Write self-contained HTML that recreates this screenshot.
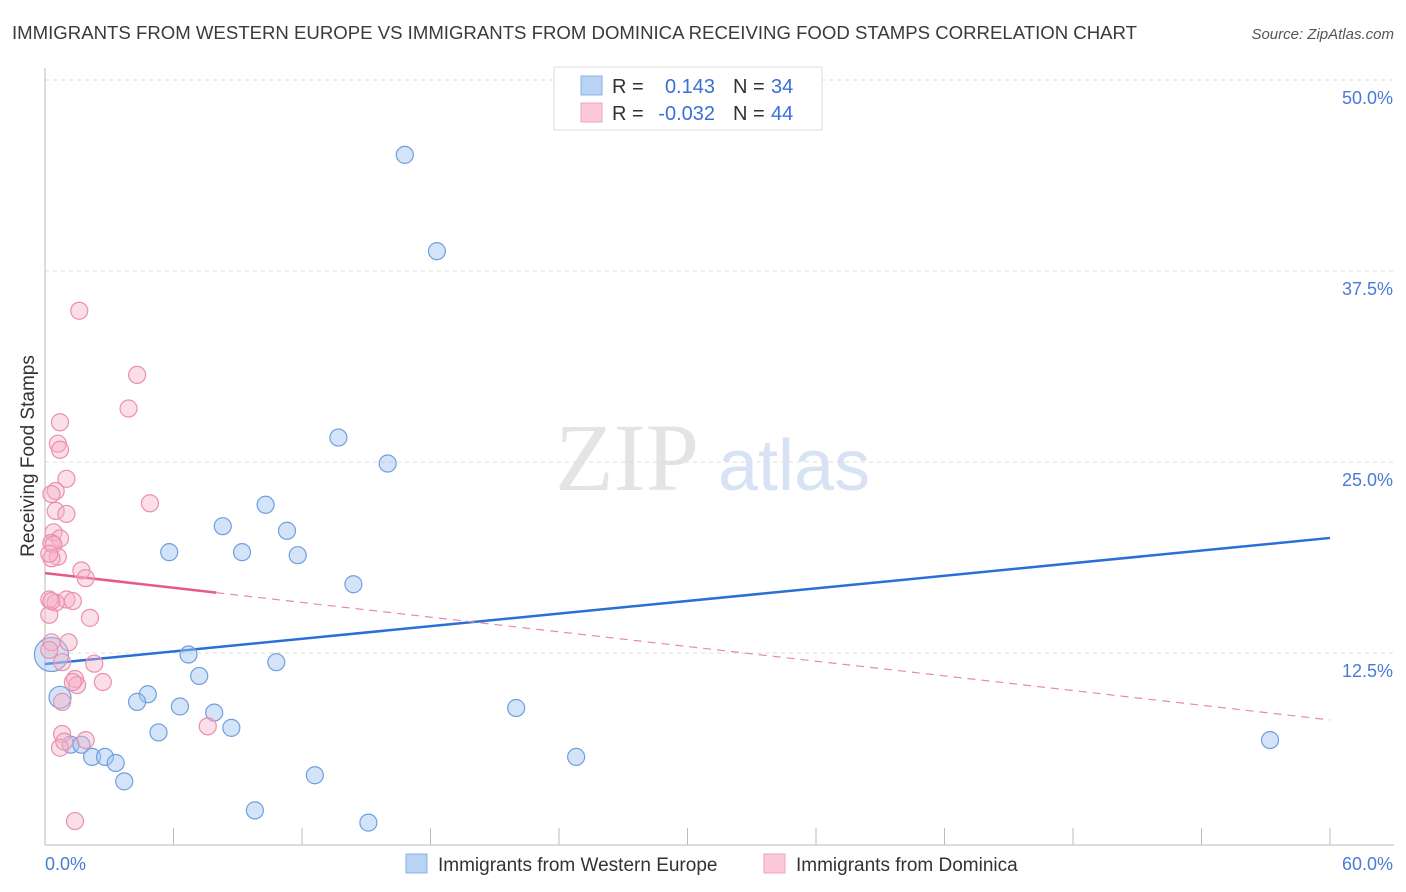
<!DOCTYPE html>
<html><head><meta charset="utf-8">
<style>
body{margin:0;background:#fff;font-family:"Liberation Sans",sans-serif;}
svg{display:block}
</style></head>
<body>
<svg id="chart" width="1406" height="892" xmlns="http://www.w3.org/2000/svg">
<text x="12" y="39" font-size="18" fill="#3a3a3a" textLength="1125" lengthAdjust="spacingAndGlyphs" font-family="Liberation Sans, sans-serif">IMMIGRANTS FROM WESTERN EUROPE VS IMMIGRANTS FROM DOMINICA RECEIVING FOOD STAMPS CORRELATION CHART</text>
<text x="1394" y="39" font-size="15" fill="#555" text-anchor="end" font-style="italic">Source: ZipAtlas.com</text>
<text x="555" y="490" font-size="96" fill="#e4e4e4" font-family="Liberation Serif, serif">ZIP</text>
<text x="718" y="490" font-size="72" fill="#d7e3f4">atlas</text>
<g id="grid"></g>
<g id="axes"></g>
<g id="lines"></g>
<g id="pts"></g>
<text transform="translate(34,456) rotate(-90)" text-anchor="middle" font-size="19" fill="#333">Receiving Food Stamps</text>
<g>
<rect x="554" y="67" width="268" height="63" fill="#fff" stroke="#ddd"/>
<rect x="581" y="76" width="21" height="19" fill="#b9d3f4" stroke="#8ab1e6"/>
<rect x="581" y="103" width="21" height="19" fill="#fcc9d8" stroke="#f0a3bd"/>
<text x="612" y="93" font-size="20" fill="#333">R =</text>
<text x="715" y="93" font-size="20" fill="#3a6fd8" text-anchor="end">0.143</text>
<text x="733" y="93" font-size="20" fill="#333">N =</text>
<text x="771" y="93" font-size="20" fill="#3a6fd8">34</text>
<text x="612" y="120" font-size="20" fill="#333">R =</text>
<text x="715" y="120" font-size="20" fill="#3a6fd8" text-anchor="end">-0.032</text>
<text x="733" y="120" font-size="20" fill="#333">N =</text>
<text x="771" y="120" font-size="20" fill="#3a6fd8">44</text>
</g>
<g>
<rect x="406" y="854" width="21" height="19" fill="#b9d3f4" stroke="#8ab1e6"/>
<text x="438" y="871" font-size="19" fill="#333">Immigrants from Western Europe</text>
<rect x="764" y="854" width="21" height="19" fill="#fcc9d8" stroke="#f0a3bd"/>
<text x="796" y="871" font-size="19" fill="#333">Immigrants from Dominica</text>
</g>
</svg>
<script>
const blueX=[16.8,18.3,13.7,16.0,10.3,8.3,11.3,5.8,9.2,11.8,14.4,6.7,10.8,7.2,0.3,0.7,4.8,4.3,6.3,7.9,22.0,5.3,8.7,1.2,1.7,2.2,2.8,3.3,3.7,12.6,24.8,57.2,9.8,15.1];
const blueY=[45.1,38.8,26.6,24.9,22.2,20.8,20.5,19.1,19.1,18.9,17.0,12.4,11.9,11.0,12.4,9.6,9.8,9.3,9.0,8.6,8.9,7.3,7.6,6.5,6.5,5.7,5.7,5.3,4.1,4.5,5.7,6.8,2.2,1.4];
const blueR=[8.5,8.5,8.5,8.5,8.5,8.5,8.5,8.5,8.5,8.5,8.5,8.5,8.5,8.5,17,11,8.5,8.5,8.5,8.5,8.5,8.5,8.5,8.5,8.5,8.5,8.5,8.5,8.5,8.5,8.5,8.5,8.5,8.5];
const pinkX=[1.6,4.3,3.9,0.7,0.6,0.7,1.0,0.5,0.3,4.9,0.5,1.0,0.4,0.7,0.3,0.4,0.6,0.3,1.7,1.9,1.0,1.3,0.5,0.2,2.1,1.1,0.3,0.2,0.8,2.3,1.4,1.5,1.3,2.7,0.8,7.6,0.8,1.9,0.7,0.9,1.4,0.2,0.2,0.3];
const pinkY=[34.9,30.7,28.5,27.6,26.2,25.8,23.9,23.1,22.9,22.3,21.8,21.6,20.4,20.0,19.7,19.6,18.8,18.7,17.9,17.4,16.0,15.9,15.8,15.0,14.8,13.2,13.2,12.7,11.9,11.8,10.8,10.4,10.6,10.6,9.3,7.7,7.2,6.8,6.3,6.7,1.5,19.0,16.0,15.9];
const yTicks=[12.5,25.0,37.5,50.0];
const yTickLabels=["12.5%","25.0%","37.5%","50.0%"];
const xTickVals=[0,6,12,18,24,30,36,42,48,54,60];
const blueTrend=[11.78,20.03];
const pinkTrend=[17.73,8.12];
const pinkSolidEnd=8.0;

const NS="http://www.w3.org/2000/svg";
const X=v=>45+v*(1285/60);
const Y=v=>844-v*15.28;
function mk(tag,attrs,parent){const e=document.createElementNS(NS,tag);for(const k in attrs)e.setAttribute(k,attrs[k]);document.getElementById(parent).appendChild(e);return e;}

yTicks.forEach((t,i)=>{
 const l=mk('line',{x1:45,x2:1394,y1:Y(t),y2:Y(t),stroke:'#ddd','stroke-dasharray':'4,4'},'grid');
 
 
 const tx=mk('text',{x:1393,y:Y(t)+24,'text-anchor':'end','font-size':18,fill:'#4a7bd4'},'axes');
 tx.textContent=yTickLabels[i];
 
 
});
const ax=mk('line',{x1:45,x2:45,y1:68,y2:845,stroke:'#bbb'},'axes');


const bx=mk('line',{x1:45,x2:1394,y1:845,y2:845,stroke:'#bbb'},'axes');


xTickVals.forEach(v=>{
 const t=mk('line',{x1:X(v),x2:X(v),y1:828,y2:845,stroke:'#bbb'},'axes');
 
 
});
const xl0=mk('text',{x:45,y:870,'font-size':18,fill:'#4a7bd4'},'axes');xl0.textContent='0.0%';


const xl1=mk('text',{x:1393,y:870,'font-size':18,fill:'#4a7bd4','text-anchor':'end'},'axes');xl1.textContent='60.0%';



blueX.forEach((v,i)=>{
 const c=mk('circle',{cx:X(v),cy:Y(blueY[i]),r:blueR[i],fill:'rgba(160,196,240,0.45)',stroke:'#6f9fdf','stroke-width':1.2},'pts');
 
 
});
pinkX.forEach((v,i)=>{
 const c=mk('circle',{cx:X(v),cy:Y(pinkY[i]),r:8.5,fill:'rgba(246,175,198,0.4)',stroke:'#eb8fae','stroke-width':1.2},'pts');
 
 
});
const pAt=x=>pinkTrend[0]+(pinkTrend[1]-pinkTrend[0])*x/60;
const bl=mk('line',{x1:X(0),y1:Y(blueTrend[0]),x2:X(60),y2:Y(blueTrend[1]),stroke:'#2a6fd6','stroke-width':2.5},'lines');


const ps=mk('line',{x1:X(0),y1:Y(pAt(0)),x2:X(pinkSolidEnd),y2:Y(pAt(pinkSolidEnd)),stroke:'#e55a88','stroke-width':2.5},'lines');


const pd=mk('line',{x1:X(pinkSolidEnd),y1:Y(pAt(pinkSolidEnd)),x2:X(60),y2:Y(pAt(60)),stroke:'#e88aa8','stroke-width':1.2,'stroke-dasharray':'8,6'},'lines');


</script>
</body></html>
